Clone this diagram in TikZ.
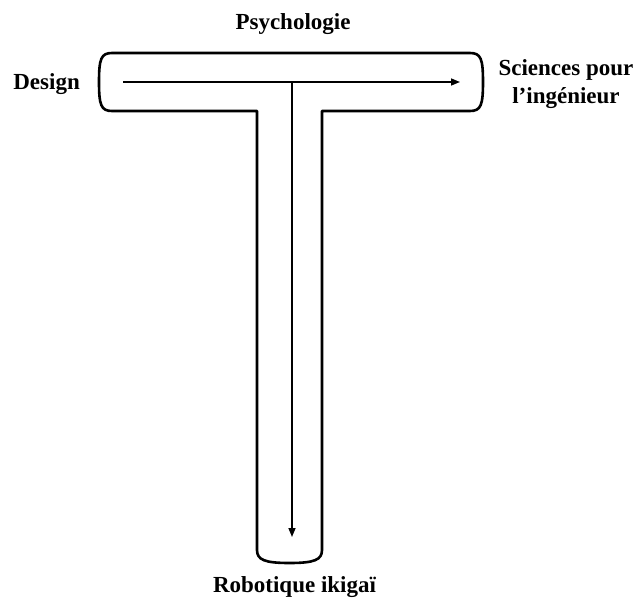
\documentclass[tikz,border=0pt]{standalone}
\usepackage{fontspec}
\setmainfont{Liberation Serif}
\usetikzlibrary{arrows.meta}

\tikzset{
  label text/.style={font=\bfseries\fontsize{23}{28}\selectfont, inner sep=0pt},
  outline/.style={line width=2.6pt, line join=round},
  flow/.style={line width=1.5pt, -{Triangle[length=9pt,width=7pt]}}
}

\begin{document}
\begin{tikzpicture}[x=1pt, y=-1pt]
  \useasboundingbox (0,0) rectangle (633,598);

  % T-shaped outline: crossbar with bowed ends, stem with rounded foot
  \draw[outline]
    (257,111) -- (112,111)
    .. controls (101,111) and (99,105) .. (99,82)
    .. controls (99,59) and (101,53) .. (112,53)
    -- (470,53)
    .. controls (481,53) and (483,59) .. (483,82)
    .. controls (483,105) and (481,111) .. (470,111)
    -- (322,111) -- (322,550)
    .. controls (322,560) and (314,563) .. (289.5,563)
    .. controls (265,563) and (257,560) .. (257,550)
    -- cycle;

  % anchor points of the two arrows
  \coordinate (hstart) at (123,82);
  \coordinate (hend)   at (460,82);
  \coordinate (vstart) at (292,82);
  \coordinate (vend)   at (292,537);

  \draw[flow] (hstart) -- (hend);
  \draw[flow] (vstart) -- (vend);

  % labels
  \node[label text, anchor=base] (psy) at (293,29) {Psychologie};
  \node[label text, anchor=base east] (design) at (80,89) {Design};
  \node[label text, anchor=base, align=center] (spi) at (566,103) {Sciences pour\\l’ingénieur};
  \node[label text, anchor=base] (robo) at (294.5,592) {Robotique ikigaï};
\end{tikzpicture}
\end{document}
